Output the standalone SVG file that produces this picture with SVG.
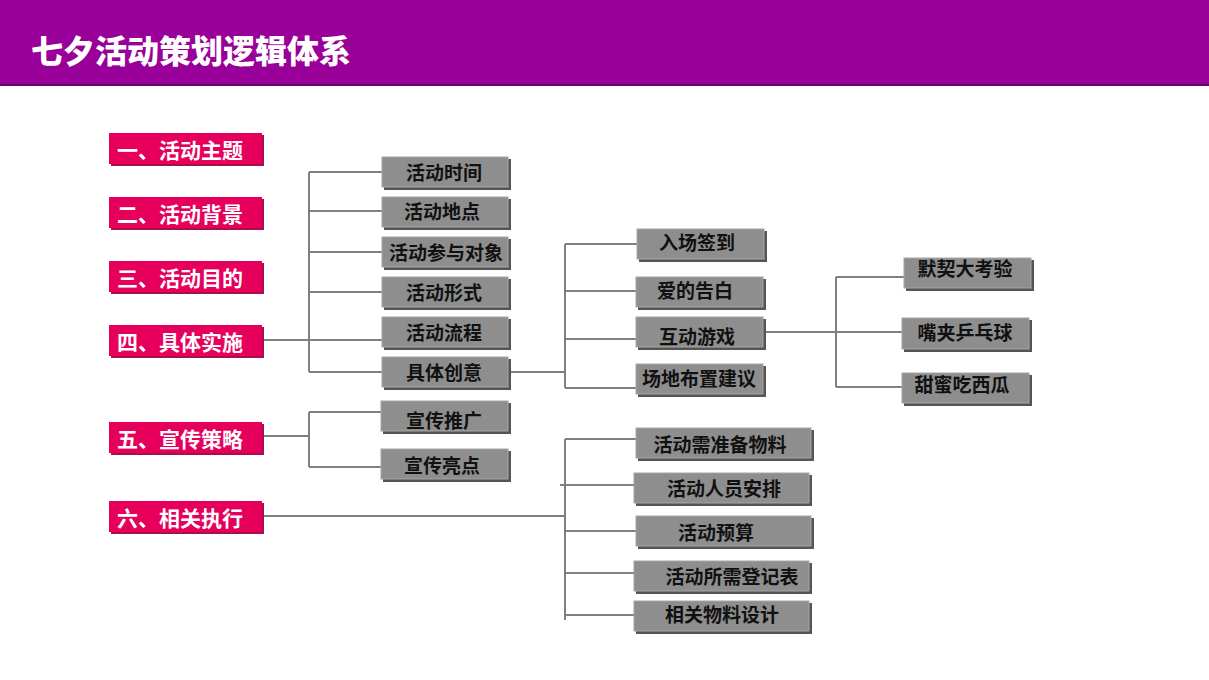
<svg xmlns="http://www.w3.org/2000/svg" width="1209" height="680" viewBox="0 0 1209 680">
<style>
.pk{fill:#E6005C}
.pks{fill:#a8104c}
.gr{fill:#8E8E8E;stroke:#a6a6a6;stroke-width:1}
.grs{fill:#555}
.pt{font-family:"Noto Sans CJK SC","Noto Sans CJK JP",sans-serif;font-weight:bold;font-size:21px;fill:#fff}
.gt{font-family:"Noto Sans CJK SC","Noto Sans CJK JP",sans-serif;font-weight:bold;font-size:19px;fill:#111;text-anchor:middle}
.ln{stroke:#808080;stroke-width:2;fill:none}
</style>
<rect width="1209" height="680" fill="#fff"/>
<g id="header">
<rect x="0" y="0" width="1209" height="86" fill="#6a006a"/>
<rect x="0" y="0" width="1209" height="84" fill="#990099"/>
<text x="31" y="63" font-family="Noto Sans CJK SC,sans-serif" font-weight="900" font-size="32" fill="#fff">七夕活动策划逻辑体系</text>
</g>
<g id="connectors">
<path class="ln" d="M309 172V372M309 172H382M309 211H382M309 252H382M309 292H382M262 340H382M309 372H382"/>
<path class="ln" d="M509 372H565M565 244V388M565 244H637M565 291H637M565 339H637M565 388H637"/>
<path class="ln" d="M766 332H836M836 277V387M836 277H904M836 332H902M836 387H902"/>
<path class="ln" d="M262 436H309M309 412V467M309 412H381M309 467H381"/>
<path class="ln" d="M262 516H565M565 439V620M565 439H636M560 485H634M565 531H636M565 573H634M565 615H634"/>
</g>
<g id="n1"><rect class="pks" x="111" y="135" width="153" height="31"/><rect class="pk" x="109" y="133" width="153" height="31"/><text class="pt" x="117" y="158">一、活动主题</text></g>
<g id="n2"><rect class="pks" x="111" y="199" width="153" height="31"/><rect class="pk" x="109" y="197" width="153" height="31"/><text class="pt" x="117" y="222">二、活动背景</text></g>
<g id="n3"><rect class="pks" x="111" y="263" width="153" height="31"/><rect class="pk" x="109" y="261" width="153" height="31"/><text class="pt" x="117" y="286">三、活动目的</text></g>
<g id="n4"><rect class="pks" x="111" y="327" width="153" height="31"/><rect class="pk" x="109" y="325" width="153" height="31"/><text class="pt" x="117" y="350">四、具体实施</text></g>
<g id="n5"><rect class="pks" x="111" y="424" width="153" height="31"/><rect class="pk" x="109" y="422" width="153" height="31"/><text class="pt" x="117" y="447">五、宣传策略</text></g>
<g id="n6"><rect class="pks" x="111" y="503" width="153" height="31"/><rect class="pk" x="109" y="501" width="153" height="31"/><text class="pt" x="117" y="526">六、相关执行</text></g>

<g id="a1"><rect class="grs" x="384" y="159" width="127" height="31"/><rect class="gr" x="382" y="157" width="126" height="30"/><text class="gt" x="444" y="180">活动时间</text></g>
<g id="a2"><rect class="grs" x="384" y="199" width="127" height="31"/><rect class="gr" x="382" y="197" width="126" height="30"/><text class="gt" x="442" y="219">活动地点</text></g>
<g id="a3"><rect class="grs" x="384" y="239" width="127" height="31"/><rect class="gr" x="382" y="237" width="126" height="30"/><text class="gt" x="446" y="260">活动参与对象</text></g>
<g id="a4"><rect class="grs" x="384" y="279" width="127" height="31"/><rect class="gr" x="382" y="277" width="126" height="30"/><text class="gt" x="444" y="300">活动形式</text></g>
<g id="a5"><rect class="grs" x="384" y="319" width="127" height="31"/><rect class="gr" x="382" y="317" width="126" height="30"/><text class="gt" x="444" y="340">活动流程</text></g>
<g id="a6"><rect class="grs" x="384" y="359" width="127" height="31"/><rect class="gr" x="382" y="357" width="126" height="30"/><text class="gt" x="444" y="380">具体创意</text></g>

<g id="b1"><rect class="grs" x="639" y="231" width="128" height="31"/><rect class="gr" x="637" y="229" width="127" height="30"/><text class="gt" x="697" y="250">入场签到</text></g>
<g id="b2"><rect class="grs" x="638" y="279" width="128" height="31"/><rect class="gr" x="636" y="277" width="127" height="30"/><text class="gt" x="695" y="298">爱的告白</text></g>
<g id="b3"><rect class="grs" x="638" y="319" width="128" height="31"/><rect class="gr" x="636" y="317" width="127" height="30"/><text class="gt" x="697" y="344">互动游戏</text></g>
<g id="b4"><rect class="grs" x="638" y="366" width="128" height="31"/><rect class="gr" x="636" y="364" width="127" height="30"/><text class="gt" x="699" y="386">场地布置建议</text></g>

<g id="c1"><rect class="grs" x="906" y="260" width="128" height="31"/><rect class="gr" x="904" y="258" width="127" height="30"/><text class="gt" x="965" y="276">默契大考验</text></g>
<g id="c2"><rect class="grs" x="904" y="320" width="128" height="32"/><rect class="gr" x="902" y="318" width="127" height="31"/><text class="gt" x="965" y="340">嘴夹乒乓球</text></g>
<g id="c3"><rect class="grs" x="904" y="375" width="128" height="31"/><rect class="gr" x="902" y="373" width="127" height="30"/><text class="gt" x="962" y="392">甜蜜吃西瓜</text></g>

<g id="d1"><rect class="grs" x="383" y="403" width="128" height="31"/><rect class="gr" x="381" y="401" width="127" height="30"/><text class="gt" x="444" y="428">宣传推广</text></g>
<g id="d2"><rect class="grs" x="383" y="451" width="128" height="31"/><rect class="gr" x="381" y="449" width="127" height="30"/><text class="gt" x="442" y="473">宣传亮点</text></g>

<g id="e1"><rect class="grs" x="638" y="430" width="176" height="31"/><rect class="gr" x="636" y="428" width="175" height="30"/><text class="gt" x="720" y="452">活动需准备物料</text></g>
<g id="e2"><rect class="grs" x="636" y="475" width="176" height="31"/><rect class="gr" x="634" y="473" width="175" height="30"/><text class="gt" x="724" y="496">活动人员安排</text></g>
<g id="e3"><rect class="grs" x="638" y="518" width="176" height="31"/><rect class="gr" x="636" y="516" width="175" height="30"/><text class="gt" x="716" y="540">活动预算</text></g>
<g id="e4"><rect class="grs" x="636" y="563" width="176" height="31"/><rect class="gr" x="634" y="561" width="175" height="30"/><text class="gt" x="732" y="584">活动所需登记表</text></g>
<g id="e5"><rect class="grs" x="636" y="603" width="176" height="31"/><rect class="gr" x="634" y="601" width="175" height="30"/><text class="gt" x="722" y="622">相关物料设计</text></g>
</svg>
